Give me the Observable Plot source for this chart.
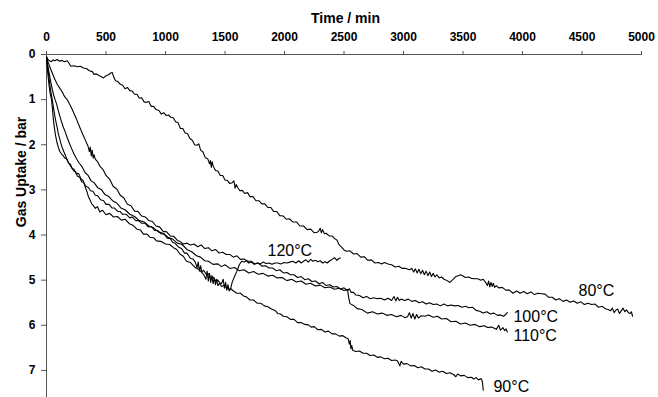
<!DOCTYPE html>
<html><head><meta charset="utf-8">
<script src="https://cdn.jsdelivr.net/npm/d3@7"></script>
<script src="https://cdn.jsdelivr.net/npm/@observablehq/plot@0.6"></script>
<style>html,body{margin:0;padding:0;background:#fff}svg{display:block}</style>
</head><body><div id="chart"></div>
<script>
const xTicks = [0,500,1000,1500,2000,2500,3000,3500,4000,4500,5000];
const yTicks = [0,1,2,3,4,5,6,7];
const seriesNames = ["80°C","90°C","100°C","110°C","120°C"];

const s80 = [[0,0.05],[10,0.1],[25,0.14],[40,0.16],[55,0.12],[70,0.14],[90,0.11],[110,0.15],[130,0.13],[150,0.16],[175,0.14],[190,0.2],[205,0.26],[230,0.25],[260,0.27],[285,0.26],[310,0.3],[335,0.31],[360,0.36],[385,0.38],[400,0.44],[420,0.43],[445,0.47],[465,0.5],[480,0.52],[500,0.47],[520,0.45],[540,0.41],[552,0.4],[565,0.5],[580,0.58],[600,0.6],[620,0.66],[640,0.68],[660,0.76],[680,0.73],[700,0.8],[720,0.81],[740,0.88],[760,0.88],[780,0.97],[800,0.96],[820,1.05],[840,1.06],[860,1.04],[880,1.15],[900,1.15],[920,1.22],[945,1.24],[965,1.32],[985,1.29],[1005,1.35],[1025,1.34],[1045,1.39],[1065,1.4],[1085,1.49],[1105,1.51],[1125,1.64],[1145,1.64],[1165,1.74],[1185,1.75],[1205,1.86],[1225,1.9],[1245,2.0],[1265,2.01],[1280,1.98],[1295,2.12],[1315,2.16],[1335,2.29],[1355,2.31],[1370,2.42],[1378,2.35],[1385,2.5],[1392,2.38],[1400,2.47],[1420,2.57],[1440,2.58],[1460,2.68],[1480,2.68],[1500,2.78],[1520,2.79],[1540,2.86],[1560,2.84],[1575,2.8],[1585,2.96],[1595,2.88],[1605,2.94],[1625,3.02],[1645,3.01],[1665,3.08],[1690,3.06],[1710,3.15],[1735,3.15],[1760,3.24],[1785,3.24],[1810,3.31],[1835,3.31],[1860,3.39],[1885,3.39],[1910,3.48],[1935,3.48],[1960,3.57],[1990,3.58],[2015,3.65],[2040,3.64],[2070,3.71],[2100,3.71],[2130,3.8],[2160,3.8],[2190,3.88],[2220,3.87],[2250,3.95],[2275,3.94],[2290,3.9],[2300,3.85],[2310,3.95],[2320,3.88],[2335,3.97],[2350,3.96],[2375,4.02],[2400,4.02],[2420,4.08],[2440,4.11],[2460,4.22],[2480,4.27],[2500,4.33],[2520,4.36],[2550,4.35],[2580,4.42],[2610,4.41],[2640,4.49],[2670,4.48],[2700,4.56],[2730,4.55],[2760,4.62],[2790,4.61],[2815,4.64],[2840,4.61],[2870,4.64],[2900,4.66],[2930,4.71],[2960,4.69],[2990,4.74],[3020,4.74],[3050,4.77],[3070,4.74],[3085,4.82],[3100,4.75],[3115,4.84],[3130,4.76],[3145,4.86],[3160,4.78],[3175,4.88],[3190,4.8],[3205,4.9],[3220,4.82],[3235,4.92],[3250,4.85],[3265,4.93],[3280,4.88],[3300,4.95],[3320,4.93],[3340,4.98],[3360,5.0],[3390,5.05],[3410,5.0],[3425,4.96],[3440,4.92],[3460,4.9],[3480,4.88],[3500,4.91],[3520,4.94],[3545,4.93],[3570,4.96],[3600,4.97],[3625,4.97],[3650,5.0],[3670,4.98],[3690,5.05],[3705,5.12],[3715,5.02],[3725,5.15],[3735,5.05],[3745,5.14],[3755,5.07],[3765,5.16],[3780,5.12],[3800,5.17],[3830,5.16],[3860,5.22],[3890,5.22],[3920,5.29],[3950,5.24],[3980,5.29],[4010,5.25],[4040,5.3],[4070,5.26],[4100,5.32],[4130,5.29],[4160,5.3],[4190,5.31],[4220,5.38],[4250,5.38],[4280,5.44],[4310,5.41],[4340,5.47],[4370,5.44],[4400,5.49],[4430,5.46],[4460,5.51],[4490,5.48],[4520,5.54],[4550,5.51],[4580,5.54],[4610,5.53],[4640,5.6],[4670,5.58],[4700,5.64],[4720,5.65],[4740,5.68],[4755,5.62],[4770,5.72],[4785,5.66],[4800,5.64],[4815,5.74],[4830,5.68],[4845,5.62],[4860,5.7],[4875,5.66],[4890,5.72],[4905,5.74],[4915,5.7],[4925,5.8]];

const s90 = [[0,0.05],[5,0.25],[12,0.45],[20,0.65],[30,0.85],[42,1.0],[50,1.2],[58,1.45],[66,1.62],[75,1.78],[88,1.95],[100,2.06],[112,2.15],[125,2.2],[140,2.24],[155,2.3],[168,2.31],[185,2.4],[200,2.43],[215,2.52],[230,2.54],[250,2.64],[270,2.64],[290,2.76],[308,2.79],[325,2.93],[340,3.04],[352,3.15],[364,3.21],[380,3.31],[395,3.35],[410,3.41],[428,3.37],[448,3.49],[470,3.45],[500,3.55],[530,3.52],[563,3.6],[595,3.59],[630,3.67],[660,3.65],[697,3.75],[730,3.79],[760,3.87],[790,3.89],[815,3.98],[845,3.98],[870,4.05],[900,4.06],[924,4.13],[960,4.14],[1000,4.2],[1035,4.21],[1067,4.28],[1095,4.32],[1120,4.42],[1150,4.47],[1176,4.58],[1210,4.61],[1250,4.72],[1285,4.77],[1319,4.87],[1340,4.98],[1350,4.8],[1360,5.02],[1370,4.85],[1380,5.05],[1390,4.9],[1400,5.08],[1410,4.95],[1420,5.1],[1430,4.98],[1440,5.12],[1454,5.07],[1470,5.14],[1490,5.12],[1510,5.16],[1530,5.2],[1550,5.19],[1571,5.24],[1600,5.29],[1630,5.29],[1655,5.35],[1680,5.37],[1710,5.44],[1740,5.44],[1770,5.51],[1800,5.51],[1830,5.57],[1860,5.59],[1890,5.64],[1920,5.67],[1945,5.74],[1966,5.75],[1990,5.8],[2020,5.81],[2050,5.87],[2080,5.87],[2110,5.94],[2140,5.94],[2170,5.98],[2200,5.99],[2225,6.04],[2250,6.03],[2280,6.1],[2310,6.09],[2340,6.15],[2370,6.13],[2400,6.19],[2430,6.19],[2460,6.24],[2490,6.23],[2520,6.28],[2535,6.3],[2545,6.42],[2552,6.34],[2558,6.52],[2565,6.45],[2575,6.56],[2600,6.58],[2630,6.57],[2660,6.62],[2690,6.62],[2720,6.67],[2750,6.66],[2780,6.71],[2810,6.7],[2840,6.74],[2870,6.73],[2900,6.78],[2930,6.77],[2950,6.79],[2970,6.9],[2980,6.8],[3000,6.86],[3030,6.85],[3060,6.9],[3090,6.89],[3120,6.94],[3150,6.92],[3180,6.97],[3210,6.97],[3240,7.02],[3270,6.99],[3300,7.04],[3330,7.02],[3360,7.07],[3390,7.05],[3420,7.09],[3440,7.14],[3455,7.08],[3480,7.12],[3510,7.11],[3540,7.16],[3570,7.15],[3590,7.19],[3610,7.16],[3630,7.21],[3650,7.18],[3660,7.22],[3665,7.3],[3670,7.44]];

const s100 = [[0,0.05],[10,0.15],[20,0.22],[35,0.32],[50,0.42],[70,0.55],[90,0.66],[110,0.74],[130,0.82],[145,0.9],[160,0.96],[175,1.0],[190,1.08],[210,1.18],[230,1.3],[250,1.42],[270,1.55],[290,1.68],[310,1.8],[330,1.92],[350,2.04],[360,2.15],[368,2.05],[376,2.25],[384,2.12],[392,2.3],[400,2.22],[410,2.32],[430,2.38],[450,2.48],[475,2.55],[500,2.68],[530,2.76],[560,2.92],[590,2.98],[620,3.12],[650,3.18],[680,3.32],[710,3.35],[740,3.47],[770,3.48],[800,3.58],[830,3.6],[860,3.68],[890,3.7],[920,3.8],[950,3.82],[980,3.92],[1010,3.93],[1040,4.02],[1070,4.03],[1100,4.12],[1120,4.14],[1150,4.2],[1180,4.18],[1210,4.22],[1240,4.2],[1270,4.26],[1300,4.22],[1330,4.3],[1360,4.28],[1390,4.35],[1420,4.32],[1450,4.4],[1480,4.38],[1510,4.43],[1540,4.43],[1570,4.49],[1600,4.46],[1630,4.54],[1660,4.53],[1690,4.58],[1720,4.58],[1750,4.64],[1780,4.62],[1810,4.69],[1840,4.68],[1870,4.73],[1900,4.73],[1930,4.79],[1960,4.77],[1990,4.84],[2020,4.83],[2050,4.88],[2080,4.88],[2110,4.94],[2140,4.92],[2170,4.99],[2200,4.97],[2230,5.03],[2260,5.02],[2290,5.08],[2320,5.05],[2350,5.12],[2380,5.1],[2410,5.15],[2440,5.14],[2470,5.2],[2500,5.17],[2530,5.23],[2545,5.19],[2560,5.27],[2580,5.27],[2600,5.33],[2630,5.34],[2660,5.39],[2690,5.36],[2720,5.41],[2750,5.39],[2780,5.41],[2810,5.4],[2840,5.44],[2870,5.4],[2900,5.45],[2920,5.36],[2935,5.46],[2950,5.38],[2965,5.45],[2980,5.42],[3010,5.45],[3040,5.42],[3070,5.47],[3100,5.45],[3130,5.5],[3160,5.48],[3190,5.53],[3220,5.5],[3250,5.54],[3280,5.53],[3310,5.57],[3340,5.53],[3370,5.57],[3400,5.55],[3430,5.57],[3460,5.56],[3490,5.6],[3520,5.58],[3550,5.61],[3580,5.6],[3610,5.67],[3640,5.69],[3670,5.73],[3700,5.7],[3730,5.75],[3760,5.73],[3790,5.78],[3815,5.77],[3840,5.8],[3860,5.76],[3872,5.72]];

const s110 = [[0,0.05],[8,0.2],[15,0.3],[25,0.45],[35,0.6],[48,0.76],[60,0.9],[72,1.0],[85,1.1],[100,1.25],[110,1.35],[125,1.48],[140,1.6],[158,1.72],[175,1.85],[190,1.95],[210,2.08],[230,2.2],[250,2.3],[275,2.41],[300,2.49],[325,2.62],[350,2.68],[375,2.8],[400,2.84],[430,2.95],[460,2.99],[490,3.1],[520,3.14],[555,3.24],[590,3.29],[625,3.4],[660,3.44],[700,3.54],[740,3.59],[780,3.68],[820,3.71],[860,3.8],[900,3.84],[940,3.93],[980,3.96],[1020,4.05],[1060,4.09],[1100,4.18],[1140,4.21],[1180,4.32],[1220,4.37],[1260,4.46],[1294,4.49],[1330,4.57],[1360,4.58],[1400,4.65],[1440,4.64],[1470,4.7],[1500,4.66],[1540,4.74],[1580,4.72],[1620,4.79],[1660,4.77],[1700,4.84],[1740,4.81],[1780,4.87],[1820,4.85],[1860,4.91],[1900,4.89],[1940,4.95],[1980,4.94],[2020,5.01],[2060,4.98],[2100,5.04],[2140,5.02],[2180,5.09],[2220,5.07],[2260,5.13],[2300,5.11],[2340,5.17],[2380,5.15],[2420,5.2],[2460,5.18],[2500,5.23],[2530,5.21],[2540,5.4],[2550,5.52],[2580,5.56],[2610,5.63],[2650,5.65],[2697,5.73],[2740,5.7],[2780,5.75],[2820,5.73],[2860,5.78],[2900,5.76],[2940,5.81],[2980,5.78],[3010,5.83],[3034,5.81],[3050,5.72],[3065,5.84],[3080,5.74],[3095,5.86],[3110,5.76],[3125,5.84],[3150,5.79],[3180,5.8],[3210,5.77],[3250,5.82],[3286,5.8],[3320,5.86],[3360,5.85],[3400,5.92],[3440,5.91],[3479,5.97],[3520,5.95],[3560,6.0],[3600,5.98],[3640,6.03],[3680,6.01],[3706,6.05],[3740,6.04],[3780,6.09],[3800,6.0],[3815,6.11],[3835,6.05],[3850,6.12],[3862,6.08],[3872,6.15]];

const s120 = [[0,0.05],[8,0.25],[15,0.4],[25,0.6],[35,0.8],[48,1.0],[60,1.2],[70,1.36],[80,1.5],[90,1.62],[98,1.74],[110,1.86],[120,1.96],[130,2.05],[145,2.15],[160,2.24],[168,2.3],[185,2.4],[200,2.46],[210,2.5],[230,2.58],[245,2.6],[260,2.7],[280,2.72],[295,2.82],[310,2.83],[330,2.92],[350,2.94],[370,3.02],[390,3.03],[410,3.12],[430,3.13],[455,3.22],[480,3.24],[500,3.32],[525,3.32],[550,3.4],[570,3.4],[600,3.48],[620,3.48],[640,3.54],[670,3.54],[700,3.62],[720,3.6],[750,3.68],[775,3.68],[800,3.74],[830,3.74],[855,3.82],[880,3.81],[910,3.9],[935,3.9],[960,3.97],[990,3.98],[1015,4.07],[1040,4.08],[1060,4.16],[1080,4.18],[1110,4.27],[1135,4.3],[1160,4.4],[1180,4.4],[1210,4.52],[1230,4.53],[1250,4.6],[1265,4.72],[1275,4.6],[1285,4.8],[1295,4.68],[1305,4.82],[1320,4.78],[1340,4.86],[1360,4.86],[1380,4.94],[1400,4.93],[1420,5.01],[1440,5.0],[1460,5.07],[1470,5.08],[1485,4.98],[1495,5.18],[1505,5.05],[1515,5.22],[1525,5.1],[1535,5.24],[1546,5.2],[1560,5.05],[1580,4.92],[1600,4.8],[1620,4.66],[1640,4.58],[1660,4.6],[1680,4.57],[1700,4.62],[1720,4.6],[1745,4.65],[1770,4.62],[1795,4.64],[1820,4.6],[1845,4.63],[1870,4.62],[1895,4.65],[1920,4.62],[1945,4.62],[1970,4.64],[1995,4.61],[2020,4.62],[2045,4.6],[2070,4.58],[2095,4.62],[2120,4.57],[2140,4.62],[2160,4.58],[2180,4.55],[2200,4.6],[2220,4.54],[2240,4.58],[2260,4.56],[2280,4.59],[2300,4.57],[2320,4.62],[2340,4.59],[2360,4.62],[2380,4.57],[2400,4.54],[2420,4.5],[2440,4.56],[2455,4.52],[2470,4.51]];

// curve label positions (time, uptake)
const labelNames = ["80°C","120°C","100°C","110°C","90°C"];
const labelT = [4471,1857,3924,3924,3756];
const labelV = [5.34,4.47,5.93,6.35,7.48];

const allSeries = [s80, s90, s100, s110, s120];
const rows = allSeries.flatMap((s, i) => s.map(([t, v]) => ({series: seriesNames[i], t, v})));
const labelRows = labelNames.map((name, i) => ({name, t: labelT[i], v: labelV[i]}));

const axisColor = "#555";
const font = "'Liberation Sans', Arial, Helvetica, sans-serif";

const chart = Plot.plot({
  width: 658,
  height: 397,
  marginLeft: 46,
  marginRight: 17,
  marginTop: 54,
  marginBottom: 0,
  style: {fontFamily: font, background: "#fff", color: "#000"},
  x: {domain: [0, 5000]},
  y: {domain: [0, 7.6], reverse: true},
  marks: [
    Plot.ruleY([0], {stroke: axisColor}),
    Plot.ruleX([0], {stroke: axisColor}),
    Plot.axisX(xTicks, {anchor: "top", tickSize: 4, tickPadding: 10, fontSize: 12, fontWeight: "bold", tickFormat: d => String(d), label: null, stroke: axisColor}),
    Plot.axisY(yTicks, {anchor: "left", tickSize: 5, tickPadding: 6, fontSize: 12, fontWeight: "bold", tickFormat: d => String(d), label: null, stroke: axisColor}),
    Plot.line(rows, {x: "t", y: "v", z: "series", stroke: "#000", strokeWidth: 1.1}),
    Plot.text(labelRows, {x: "t", y: "v", text: "name", textAnchor: "start", lineAnchor: "bottom", fontSize: 16, fill: "#000"}),
    Plot.text(["Time / min"], {frameAnchor: "top", dx: 1.5, dy: -32, textAnchor: "middle", lineAnchor: "bottom", fontSize: 14, fontWeight: "bold", fill: "#000"}),
    Plot.text(["Gas Uptake / bar"], {frameAnchor: "left", rotate: -90, dx: -21, dy: -54, textAnchor: "middle", lineAnchor: "bottom", fontSize: 14, fontWeight: "bold", fill: "#000"})
  ]
});
document.getElementById("chart").appendChild(chart);
</script>
</body></html>
